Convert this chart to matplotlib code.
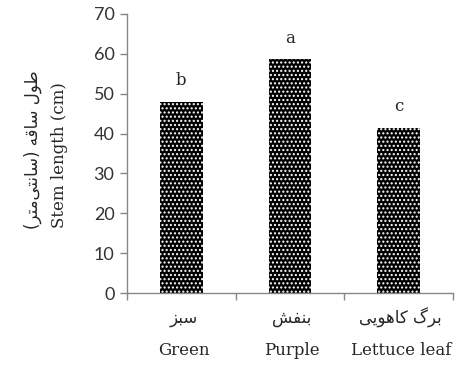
import matplotlib
matplotlib.use("Agg")
import matplotlib.pyplot as plt

# Stem length by leaf colour
categories_fa = ["\uFEB0\uFE92\uFEB3",                      # سبز
                 "\uFEB6\uFED4\uFEE8\uFE91",                # بنفش
                 "\uFBFD\uFBFE\uFEEE\uFEEB\uFE8E\uFB90 \uFB92\uFEAE\uFE91"]  # برگ کاهویی
categories_en = ["Green", "Purple", "Lettuce leaf"]
stem_length = [48.0, 58.6, 41.5]
letters = ["b", "a", "c"]
yticks = [0, 10, 20, 30, 40, 50, 60, 70]

# طول ساقه (سانتی‌متر) in visual order
ylabel_fa = ("(\uFEAE\uFE98\uFEE3\uFBFD\uFE98\uFEE7\uFE8E\uFEB3) "
             "\uFEEA\uFED7\uFE8E\uFEB3 \uFEDD\uFEEE\uFEC3")
ylabel_en = "Stem length (cm)"

W, H, DPI = 462, 365, 100
serif = ["DejaVu Serif", "DejaVu Sans"]
arabic = ["DejaVu Sans"]
axis_grey = "#868686"
text_col = "#262626"

plt.rcParams["hatch.color"] = "white"
plt.rcParams["hatch.linewidth"] = 1.0

fig = plt.figure(figsize=(W / DPI, H / DPI), dpi=DPI)
ax = fig.add_axes([127 / W, 1 - 293 / H, (453 - 127) / W, (293 - 14) / H])

x = list(range(len(stem_length)))
bars = ax.bar(x, stem_length, width=0.39, color="black", edgecolor="white",
              linewidth=0, hatch="....")

for xi, v, lab in zip(x, stem_length, letters):
    ax.annotate(lab, (xi, v), xytext=(0, 9), textcoords="offset points",
                ha="center", va="bottom", fontsize=12, family=serif,
                color=text_col)

ax.set_xlim(-0.5, 2.5)
ax.set_ylim(0, 70)
ax.set_yticks(yticks)
ax.set_xticks([-0.5, 0.5, 1.5, 2.5])
ax.set_xticklabels([])
ax.tick_params(axis="both", direction="out", length=5, width=1, colors=axis_grey)
ax.tick_params(axis="y", labelsize=13, labelcolor="#333333", pad=4)
for t in ax.get_yticklabels():
    t.set_family("Lato")

for s in ["top", "right"]:
    ax.spines[s].set_visible(False)
for s in ["left", "bottom"]:
    ax.spines[s].set_color(axis_grey)
    ax.spines[s].set_linewidth(1)

tr = ax.get_xaxis_transform()
for xi, fa, en in zip(x, categories_fa, categories_en):
    ax.text(xi + 0.02, -0.09, fa, transform=tr, ha="center", va="center",
            fontsize=12, family=arabic, color=text_col)
    ax.text(xi + 0.02, -0.205, en, transform=tr, ha="center", va="center",
            fontsize=12, family=serif, color=text_col)

fig.text(33 / W, 1 - 150 / H, ylabel_fa, rotation=90, ha="center", va="center",
         fontsize=12, family=arabic, color=text_col)
fig.text(59 / W, 1 - 155 / H, ylabel_en, rotation=90, ha="center", va="center",
         fontsize=12, family=serif, color=text_col)

fig.savefig("out.png", dpi=DPI)
